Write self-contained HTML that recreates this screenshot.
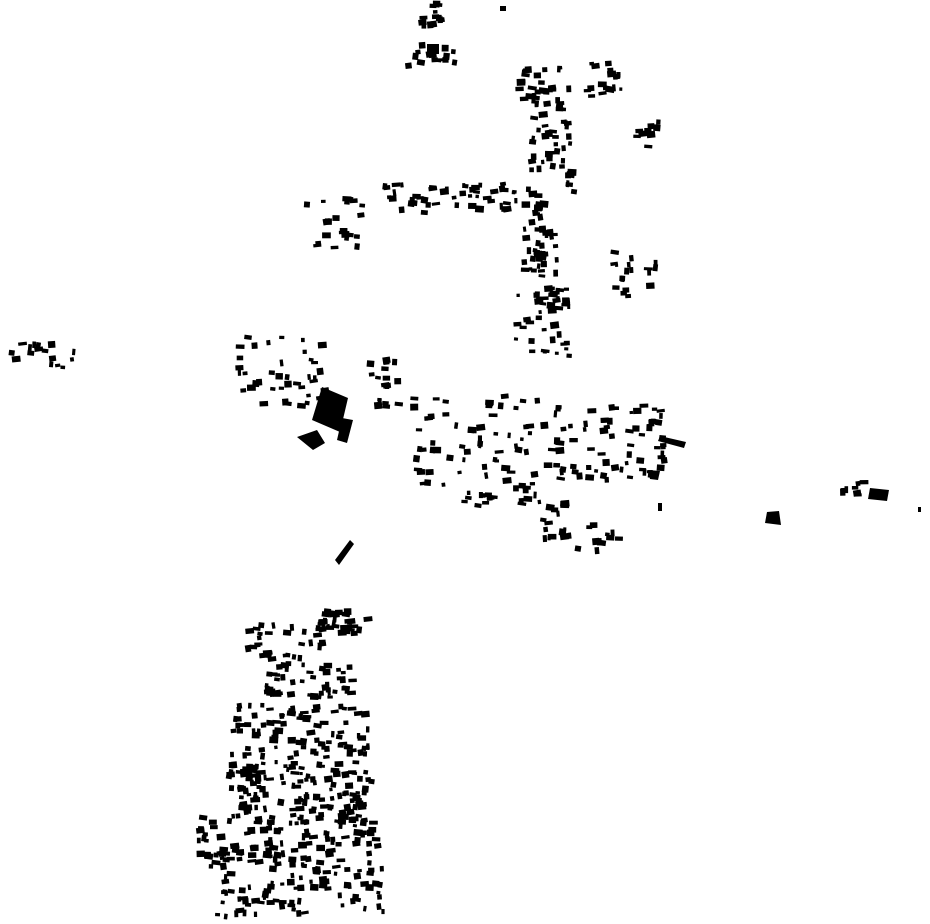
<!DOCTYPE html>
<html><head><meta charset="utf-8"><style>
html,body{margin:0;padding:0;background:#fff;width:930px;height:924px;overflow:hidden}
svg{display:block}
</style></head><body>
<svg id="s" width="930" height="924" viewBox="0 0 930 924" xmlns="http://www.w3.org/2000/svg">
<rect width="930" height="924" fill="#fff"/>
<g fill="#000">
<polygon points="312,420 322,387 348,398 340,432"/>
<polygon points="297,437 317,430 325,443 313,450"/>
<polygon points="342,418 353,420 347,443 337,440"/>
<polygon points="648,470 660,471 658,480 650,479"/>
<polygon points="767,512 779,511 781,525 765,523"/>
<rect x="658" y="503" width="4" height="8"/>
<rect x="918" y="507" width="3" height="5"/>
<polygon points="660,436 686,442 684,448 658,441"/>
<polygon points="870,488 889,490 887,501 868,499"/>
<rect x="500" y="6" width="6" height="5"/>
<rect x="427" y="44" width="12" height="10"/>
<polygon points="335,560 350,540 354,544 339,565"/>
</g>
<g id="g" fill="#000"></g>
</svg>
<script>
var seed=12345;function r(){seed=(seed*1103515245+12345)%2147483648;return seed/2147483648;}
var C=[[415,0,30,8,4],[416,10,30,22,8],[400,42,68,28,12],
[515,65,60,40,20],[583,58,40,40,14],[528,100,45,75,30],[565,165,12,30,5],[625,118,38,32,8],
[380,182,170,33,40],[520,195,40,90,30],[512,285,60,75,35],
[303,195,62,55,18],[605,250,60,52,14],[8,338,68,32,12],
[235,335,95,75,30],[365,355,42,55,14],[410,390,130,110,50],[540,398,130,85,55],
[450,485,95,25,12],[540,500,30,45,12],[560,520,65,35,10],[840,480,30,22,6],
[318,608,58,28,25],[245,620,85,45,25],[262,660,100,40,30],[230,700,140,60,65],[225,760,150,60,95],[195,815,190,55,90],[215,865,170,55,60],[262,685,22,12,8]];
var out="";
C.forEach(function(c){var n=Math.round(c[4]*1.3);for(var i=0;i<n;i++){var w=3+r()*6,h=3+r()*4;var x=c[0]+r()*(c[2]-w),y=c[1]+r()*(c[3]-h);
var a=(r()-0.5)*18;out+='<rect x="'+x.toFixed(1)+'" y="'+y.toFixed(1)+'" width="'+w.toFixed(1)+'" height="'+h.toFixed(1)+'" transform="rotate('+a.toFixed(0)+' '+(x+w/2).toFixed(1)+' '+(y+h/2).toFixed(1)+')"/>';}});
document.getElementById("g").innerHTML=out;
</script>
</body></html>
